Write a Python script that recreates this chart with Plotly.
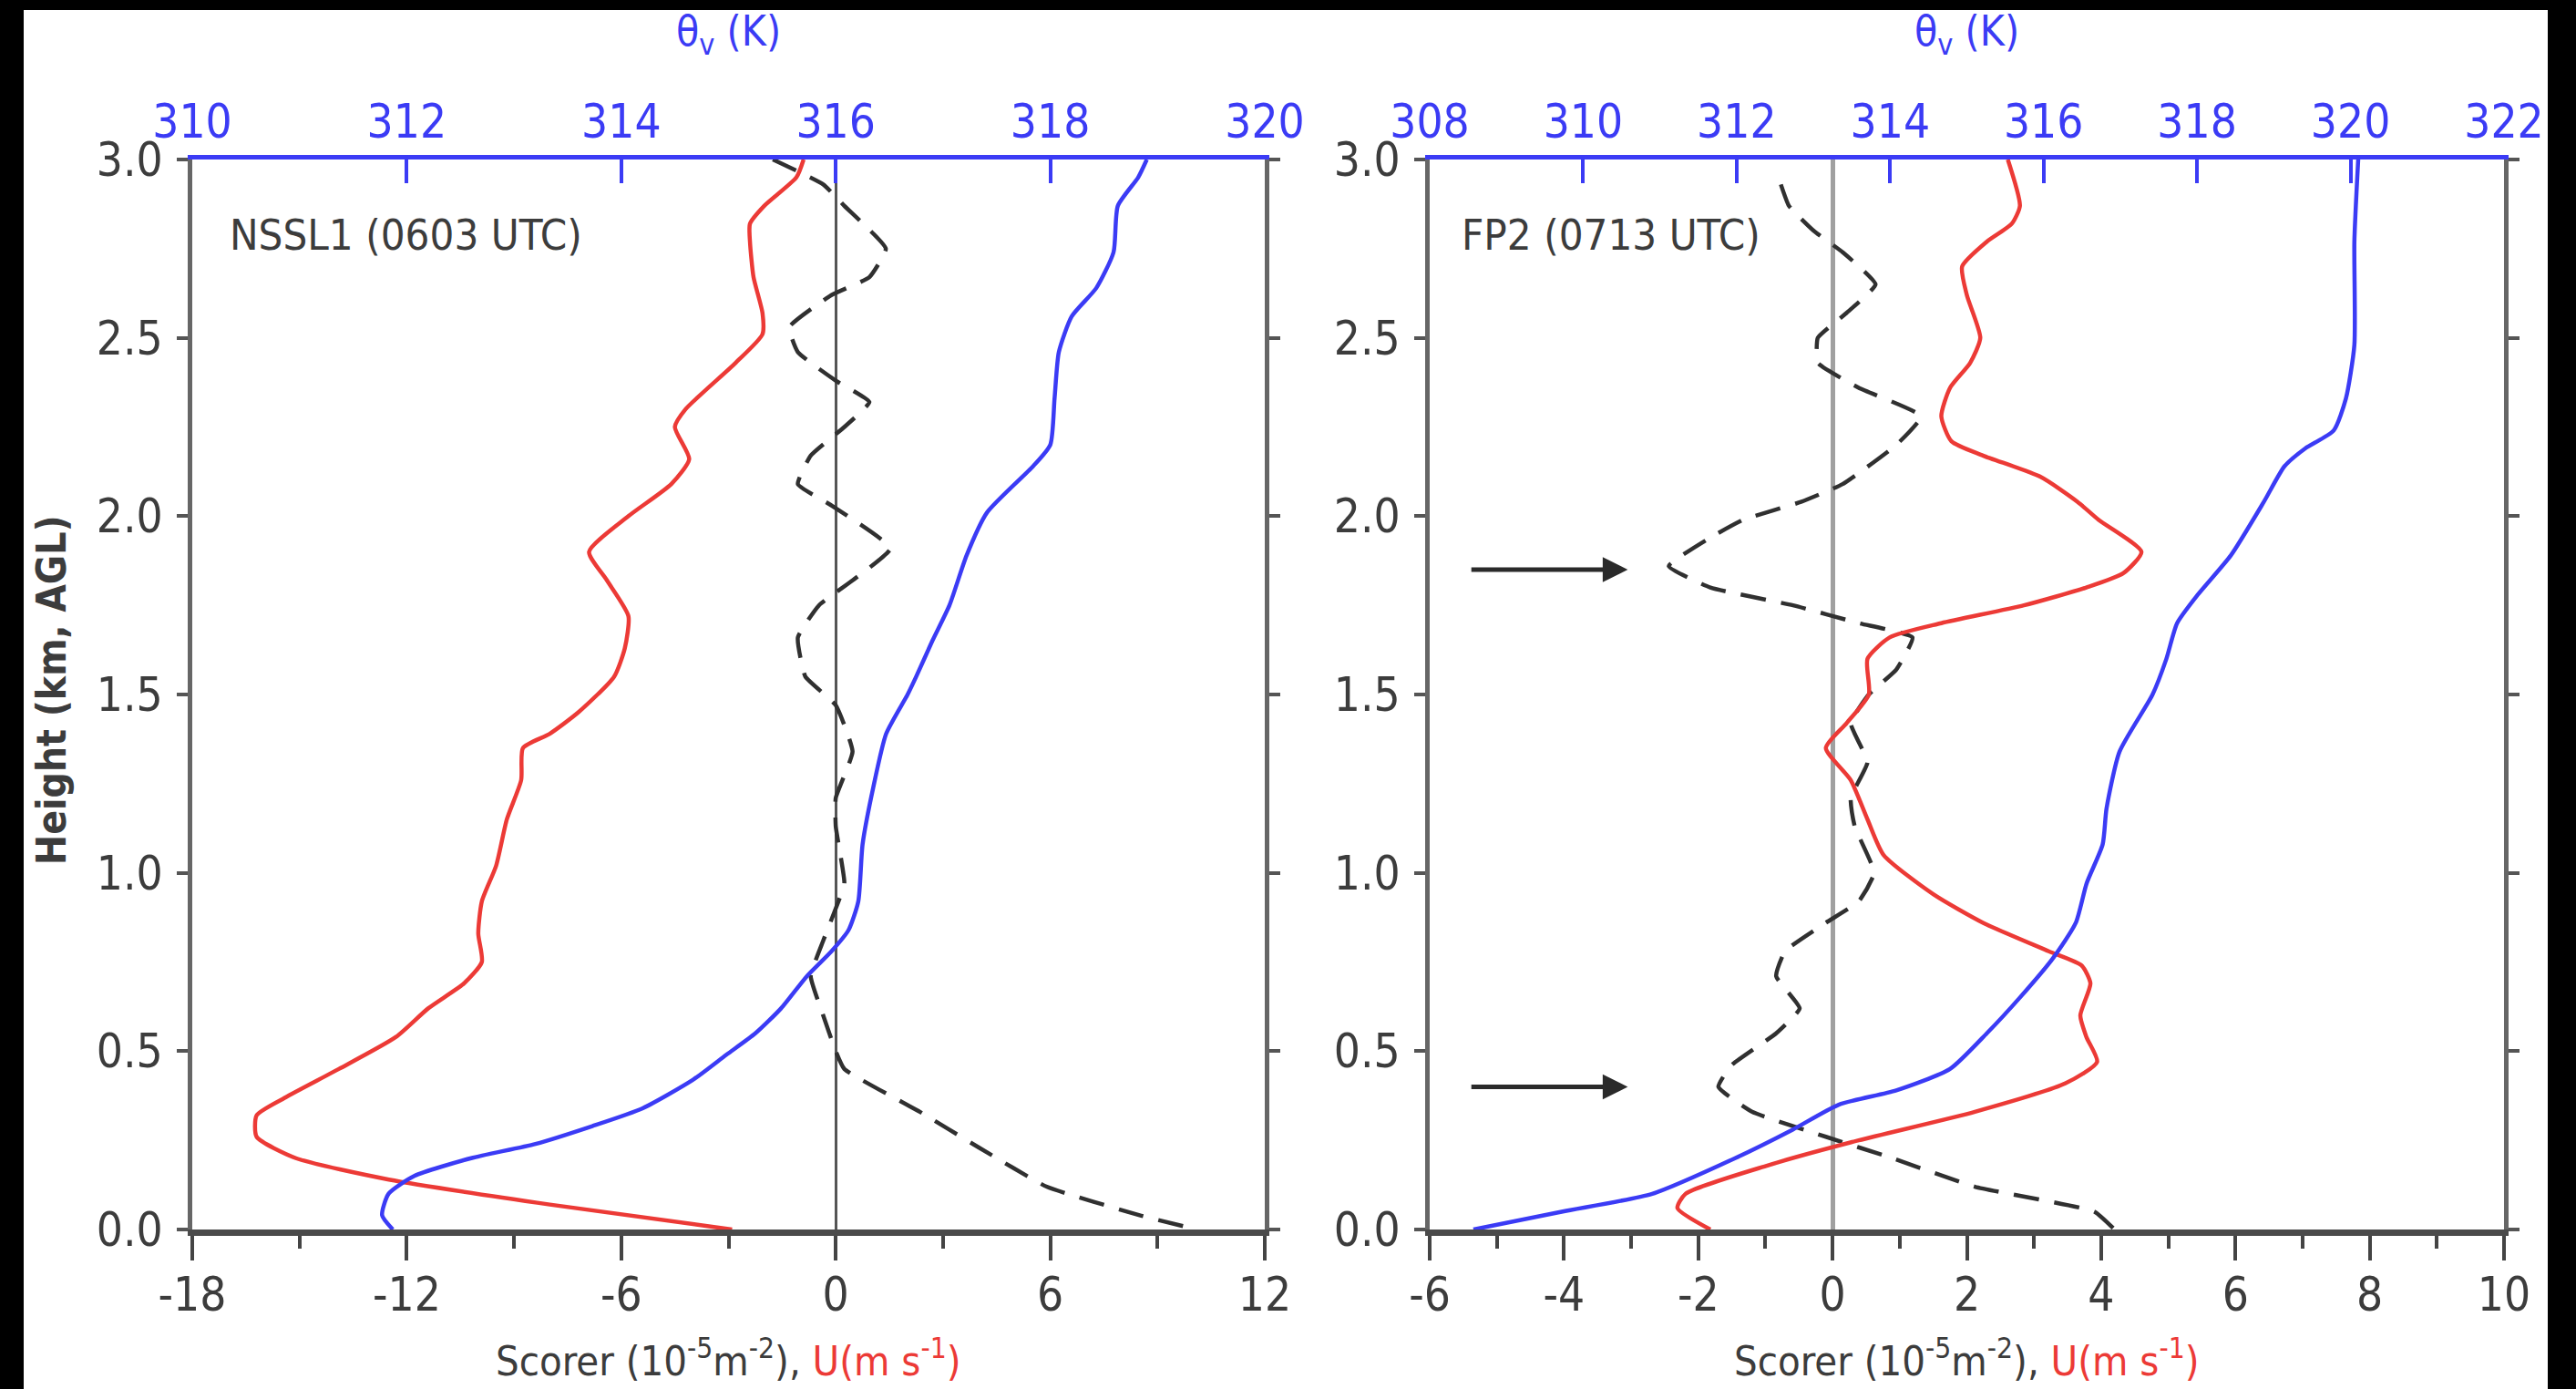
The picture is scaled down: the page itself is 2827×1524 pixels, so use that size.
import plotly.graph_objects as go

# ---------------- data ----------------
# Left panel: NSSL1 (0603 UTC)
nssl_u_height = [3.0, 2.95, 2.87, 2.82, 2.77, 2.67, 2.57, 2.51, 2.43, 2.30, 2.25, 2.16, 2.09, 2.0,
                 1.90, 1.82, 1.72, 1.63, 1.55, 1.45, 1.39, 1.35, 1.26, 1.15, 1.02, 0.92, 0.83, 0.75,
                 0.69, 0.62, 0.54, 0.45, 0.37, 0.32, 0.26, 0.20, 0.14, 0.07, 0.0]
nssl_u = [-0.9, -1.1, -2.0, -2.4, -2.4, -2.3, -2.05, -2.05, -2.8, -4.2, -4.5, -4.1, -4.6, -5.8,
          -6.9, -6.4, -5.8, -5.9, -6.2, -7.2, -8.0, -8.75, -8.8, -9.2, -9.5, -9.9, -10.0, -9.9,
          -10.4, -11.4, -12.3, -13.9, -15.4, -16.2, -16.2, -15.1, -12.5, -8.0, -2.9]

nssl_theta_height = [3.0, 2.95, 2.87, 2.74, 2.64, 2.56, 2.46, 2.33, 2.20, 2.14, 2.01, 1.89, 1.75,
                     1.65, 1.55, 1.50, 1.39, 1.24, 1.08, 0.92, 0.84, 0.78, 0.71, 0.62, 0.55, 0.49,
                     0.42, 0.34, 0.29, 0.24, 0.20, 0.15, 0.10, 0.04, 0.0]
nssl_theta = [318.9, 318.82, 318.63, 318.59, 318.43, 318.2, 318.08, 318.04, 318.0, 317.84, 317.41,
              317.22, 317.06, 316.9, 316.75, 316.67, 316.47, 316.35, 316.25, 316.21, 316.12, 315.96,
              315.73, 315.49, 315.25, 314.98, 314.67, 314.2, 313.73, 313.2, 312.6, 312.07, 311.83,
              311.77, 311.87]

nssl_scorer_height = [3.0, 2.93, 2.87, 2.75, 2.67, 2.62, 2.53, 2.46, 2.38, 2.32, 2.25, 2.17, 2.09,
                      2.03, 1.91, 1.82, 1.75, 1.66, 1.55, 1.47, 1.34, 1.21, 1.13, 0.97, 0.90, 0.81,
                      0.71, 0.60, 0.50, 0.45, 0.33, 0.23, 0.12, 0.04, 0.0]
nssl_scorer = [-1.76, -0.35, 0.24, 1.4, 0.94, -0.12, -1.3, -1.06, 0.0, 0.94, 0.24, -0.7, -1.06,
               -0.12, 1.53, 0.47, -0.47, -1.06, -0.85, 0.0, 0.47, 0.0, 0.0, 0.24, 0.0, -0.35,
               -0.7, -0.35, 0.0, 0.24, 2.35, 4.0, 5.9, 8.5, 10.1]

# Right panel: FP2 (0713 UTC)
fp2_u_height = [3.0, 2.87, 2.82, 2.77, 2.70, 2.62, 2.50, 2.43, 2.36, 2.28, 2.21, 2.17, 2.11, 2.04,
                1.99, 1.90, 1.84, 1.80, 1.75, 1.70, 1.66, 1.60, 1.50, 1.42, 1.35, 1.26, 1.15, 1.05,
                0.94, 0.86, 0.78, 0.74, 0.69, 0.60, 0.54, 0.47, 0.41, 0.33, 0.25, 0.18, 0.10, 0.06, 0.0]
fp2_u = [2.61, 2.79, 2.67, 2.3, 1.93, 2.0, 2.2, 2.05, 1.75, 1.62, 1.77, 2.24, 3.1, 3.65,
         3.96, 4.6, 4.33, 3.78, 2.85, 1.62, 0.85, 0.52, 0.54, 0.21, -0.1, 0.27, 0.52, 0.76,
         1.5, 2.24, 3.22, 3.71, 3.84, 3.69, 3.78, 3.94, 3.47, 2.12, 0.39, -0.96, -2.19, -2.31, -1.82]

fp2_theta_height = [3.0, 2.77, 2.48, 2.33, 2.24, 2.19, 2.14, 2.04, 1.89, 1.78, 1.70, 1.60, 1.50,
                    1.34, 1.18, 1.08, 0.97, 0.86, 0.76, 0.65, 0.55, 0.45, 0.39, 0.35, 0.28, 0.20,
                    0.10, 0.05, 0.0]
fp2_theta = [320.1, 320.05, 320.05, 319.94, 319.78, 319.41, 319.14, 318.87, 318.44, 318.01, 317.74,
             317.6, 317.42, 316.99, 316.82, 316.77, 316.56, 316.42, 316.12, 315.69, 315.26, 314.78,
             314.08, 313.33, 312.73, 311.98, 310.9, 309.72, 308.57]

fp2_scorer_height = [2.93, 2.87, 2.80, 2.74, 2.65, 2.57, 2.50, 2.43, 2.36, 2.28, 2.20, 2.09, 2.04,
                     1.99, 1.94, 1.86, 1.80, 1.75, 1.70, 1.66, 1.57, 1.50, 1.42, 1.31, 1.21, 1.13,
                     1.00, 0.92, 0.86, 0.78, 0.71, 0.62, 0.55, 0.46, 0.40, 0.33, 0.26, 0.20, 0.12,
                     0.05, 0.0]
fp2_scorer = [-0.77, -0.65, -0.28, 0.15, 0.64, 0.21, -0.22, -0.22, 0.39, 1.32, 0.95, 0.15, -0.47,
              -1.33, -1.82, -2.44, -1.82, -0.59, 0.39, 1.19, 0.95, 0.54, 0.27, 0.52, 0.27, 0.33,
              0.62, 0.39, -0.1, -0.71, -0.84, -0.49, -0.84, -1.51, -1.7, -1.2, -0.1, 0.89, 2.12,
              3.9, 4.2]

# arrows marking the layers of interest in FP2 (heights, km)
fp2_arrow_heights = [1.85, 0.40]

# axis ticks
height_ticks = [0.0, 0.5, 1.0, 1.5, 2.0, 2.5, 3.0]
height_ticklabels = ["0.0", "0.5", "1.0", "1.5", "2.0", "2.5", "3.0"]
nssl_bottom_ticks = [-18, -12, -6, 0, 6, 12]
nssl_top_ticks = [310, 312, 314, 316, 318, 320]
fp2_bottom_ticks = [-6, -4, -2, 0, 2, 4, 6, 8, 10]
fp2_top_ticks = [308, 310, 312, 314, 316, 318, 320, 322]

# ---------------- styling ----------------
W, H = 2827, 1524
RED = "#ec3a36"
BLUE = "#3b3bf5"
DARK = "#3c3c3c"
NARROW = "DejaVu Sans Condensed, Liberation Sans Narrow, sans-serif"
TICK_SIZE = 51

left_dom = [211 / W, 1388 / W]
right_dom = [1569 / W, 2748 / W]
y_dom = [1 - 1349 / H, 1 - 175 / H]

fig = go.Figure()


def add_panel(xb, xt, ya, u_h, u, th_h, th, sc_h, sc):
    fig.add_trace(go.Scatter(x=sc, y=sc_h, xaxis=xb, yaxis=ya, mode="lines",
                             line=dict(color="#303030", width=4.5, dash="28px,17px",
                                       shape="spline", smoothing=0.4),
                             showlegend=False, hoverinfo="skip"))
    fig.add_trace(go.Scatter(x=u, y=u_h, xaxis=xb, yaxis=ya, mode="lines",
                             line=dict(color=RED, width=4.5, shape="spline", smoothing=0.6),
                             showlegend=False))
    fig.add_trace(go.Scatter(x=th, y=th_h, xaxis=xt, yaxis=ya, mode="lines",
                             line=dict(color=BLUE, width=4.5, shape="spline", smoothing=0.6),
                             showlegend=False))


add_panel("x", "x2", "y", nssl_u_height, nssl_u, nssl_theta_height, nssl_theta,
          nssl_scorer_height, nssl_scorer)
add_panel("x3", "x4", "y2", fp2_u_height, fp2_u, fp2_theta_height, fp2_theta,
          fp2_scorer_height, fp2_scorer)


def bottom_axis(dom, anchor, rng, ticks, minor_dtick, zero_color, zero_width):
    return dict(domain=dom, anchor=anchor, range=rng, tickvals=ticks,
                ticktext=[str(t) for t in ticks],
                ticks="outside", ticklen=27, tickwidth=4, tickcolor="#444",
                minor=dict(ticks="outside", dtick=minor_dtick, tick0=0, ticklen=14,
                           tickwidth=4, tickcolor="#444"),
                showline=True, linecolor="#4a4a4a", linewidth=7,
                showgrid=False, zeroline=True, zerolinecolor=zero_color,
                zerolinewidth=zero_width, automargin=False,
                tickfont=dict(family=NARROW, size=TICK_SIZE, color=DARK),
                ticklabelstandoff=-6, fixedrange=True)


def top_axis(over, anchor, rng, ticks):
    return dict(overlaying=over, anchor=anchor, side="top", range=rng, tickvals=ticks,
                ticks="inside", ticklen=26, tickwidth=4, tickcolor=BLUE,
                showline=True, linecolor=BLUE, linewidth=5, showgrid=False, zeroline=False,
                automargin=False,
                tickfont=dict(family=NARROW, size=TICK_SIZE, color=BLUE),
                ticklabelstandoff=-1, fixedrange=True)


def height_axis(anchor):
    return dict(domain=y_dom, anchor=anchor, range=[0, 3], tickvals=height_ticks,
                ticktext=height_ticklabels, ticks="outside", ticklen=12, tickwidth=4,
                tickcolor="#555", showline=True, linecolor="#666", linewidth=5,
                mirror="ticks", showgrid=False, zeroline=False, automargin=False,
                tickfont=dict(family=NARROW, size=TICK_SIZE, color=DARK),
                ticklabelstandoff=5, fixedrange=True)


fig.update_layout(
    width=W, height=H, autosize=False,
    margin=dict(l=0, r=0, t=0, b=0, pad=0, autoexpand=False),
    paper_bgcolor="black", plot_bgcolor="white",
    xaxis=bottom_axis(left_dom, "y", [-18, 12], nssl_bottom_ticks, 3, "#555", 3),
    xaxis2=top_axis("x", "y", [310, 320], nssl_top_ticks),
    yaxis=height_axis("x"),
    xaxis3=bottom_axis(right_dom, "y2", [-6, 10], fp2_bottom_ticks, 1, "#a0a0a0", 5),
    xaxis4=top_axis("x3", "y2", [308, 322], fp2_top_ticks),
    yaxis2=height_axis("x3"),
)

# white page area inside the black frame
fig.add_shape(type="rect", xref="paper", yref="paper", x0=26 / W, x1=2796 / W,
              y0=-0.01, y1=1 - 11 / H, fillcolor="white", line_width=0, layer="below")

annotations = []
# panel labels
annotations.append(dict(x=-17.0, y=2.79, xref="x", yref="y", xanchor="left", yanchor="middle",
                        text="NSSL1 (0603 UTC)", showarrow=False,
                        font=dict(family=NARROW, size=47, color=DARK)))
annotations.append(dict(x=-5.55, y=2.79, xref="x3", yref="y2", xanchor="left", yanchor="middle",
                        text="FP2 (0713 UTC)", showarrow=False,
                        font=dict(family=NARROW, size=47, color=DARK)))
# arrows
for h in fp2_arrow_heights:
    annotations.append(dict(x=-3.05, y=h, xref="x3", yref="y2", ax=-5.4, ay=h,
                            axref="x3", ayref="y2", text="", showarrow=True,
                            arrowhead=2, arrowsize=1.1, arrowwidth=5, arrowcolor="#2a2a2a"))
# axis titles
for cx in [(left_dom[0] + left_dom[1]) / 2, (right_dom[0] + right_dom[1]) / 2]:
    annotations.append(dict(x=cx, y=1 - 38 / H, xref="paper", yref="paper",
                            xanchor="center", yanchor="middle", showarrow=False,
                            text="θ<sub>v</sub> (K)",
                            font=dict(family=NARROW, size=46, color=BLUE)))
    annotations.append(dict(x=cx, y=1 - 1490 / H, xref="paper", yref="paper",
                            xanchor="center", yanchor="middle", showarrow=False,
                            text="Scorer (10<sup>-5</sup>m<sup>-2</sup>), "
                                 f"<span style='color:{RED}'>U(m s<sup>-1</sup>)</span>",
                            font=dict(family=NARROW, size=45, color=DARK)))
annotations.append(dict(x=56 / W, y=1 - 757 / H, xref="paper", yref="paper",
                        xanchor="center", yanchor="middle", showarrow=False, textangle=-90,
                        text="<b>Height (km, AGL)</b>",
                        font=dict(family=NARROW, size=44, color=DARK)))
fig.update_layout(annotations=annotations)

fig.write_html("out.html")
